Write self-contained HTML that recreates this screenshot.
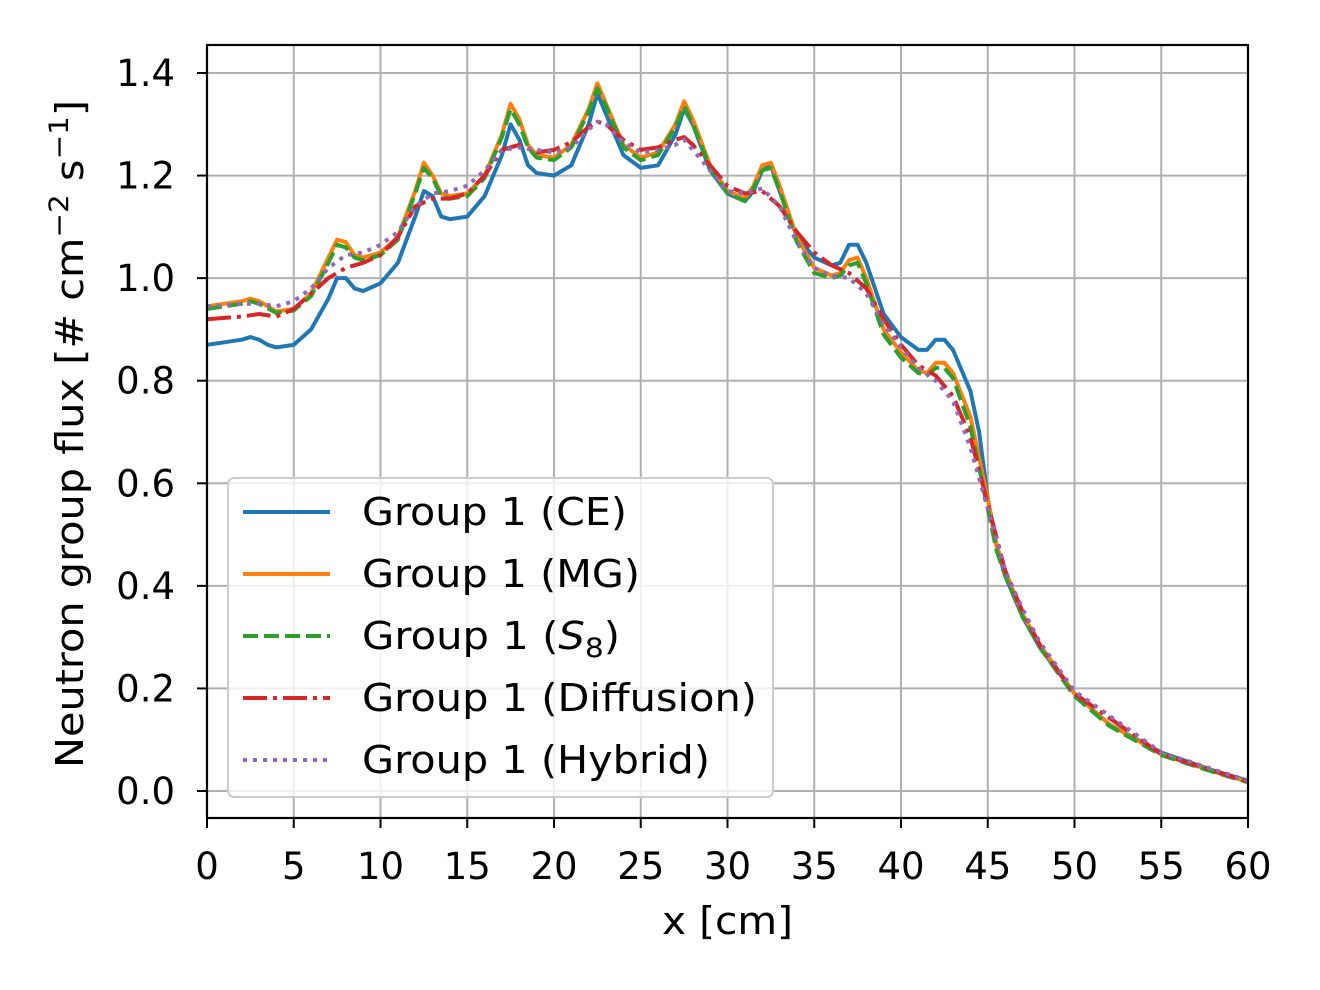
<!DOCTYPE html>
<html><head><meta charset="utf-8"><style>
html,body{margin:0;padding:0;background:#fff;}
svg{display:block;font-family:"DejaVu Sans","Liberation Sans",sans-serif;}
</style></head><body>
<svg id="chart" width="1320" height="990" viewBox="0 0 1320 990" xmlns="http://www.w3.org/2000/svg">
<g id="grid"></g>
<g id="series"></g>
<rect x="207" y="45" width="1041" height="773" fill="none" stroke="#000" stroke-width="2.2"/>
<g id="ticks"></g>
<text x="662" y="934" font-size="38" textLength="131" lengthAdjust="spacingAndGlyphs">x [cm]</text>
<text transform="translate(83,768) rotate(-90)" font-size="38" textLength="668" lengthAdjust="spacingAndGlyphs">Neutron group flux [# cm<tspan dy="-15" font-size="27">−2</tspan><tspan dy="15"> s</tspan><tspan dy="-15" font-size="27">−1</tspan><tspan dy="15">]</tspan></text>
<g id="legend"></g>
</svg>
<script>
const xTicks=[0,5,10,15,20,25,30,35,40,45,50,55,60];
const yTicks=[0.0,0.2,0.4,0.6,0.8,1.0,1.2,1.4];
const ceX=[0,1,2,2.5,3,3.5,4,5,6,7,7.5,8,8.5,9,10,11,12,12.5,13,13.5,14,15,16,17,17.5,18,18.5,19,20,21,22,22.5,23,24,25,26,27,27.5,28,29,30,31,31.5,32,32.5,33,34,35,36,36.5,37,37.5,38,39,40,41,41.5,42,42.5,43,44,44.5,45,45.5,46,47,48,50,52,55,58,60];
const ceY=[0.87,0.875,0.88,0.885,0.88,0.87,0.865,0.87,0.9,0.96,1.0,1.0,0.98,0.975,0.99,1.03,1.12,1.17,1.16,1.12,1.115,1.12,1.16,1.24,1.3,1.27,1.22,1.205,1.2,1.22,1.3,1.36,1.32,1.24,1.215,1.22,1.28,1.33,1.3,1.21,1.165,1.15,1.17,1.21,1.22,1.17,1.08,1.04,1.025,1.03,1.065,1.065,1.03,0.93,0.885,0.86,0.86,0.88,0.88,0.86,0.78,0.7,0.57,0.48,0.42,0.34,0.28,0.19,0.13,0.075,0.04,0.02];
const mgX=[0,2,2.5,3,4,5,6,7,7.5,8,8.5,9,10,11,12,12.5,13,13.5,14,15,16,17,17.5,18,18.5,19,20,21,22,22.5,23,24,25,26,27,27.5,28,29,30,31,31.5,32,32.5,33,34,35,36,36.5,37,37.5,38,39,40,41,41.5,42,42.5,43,44,45,45.5,46,47,48,50,52,55,58,60];
const mgY=[0.945,0.955,0.96,0.955,0.935,0.94,0.97,1.04,1.075,1.07,1.045,1.04,1.05,1.08,1.17,1.225,1.2,1.165,1.16,1.165,1.2,1.28,1.34,1.31,1.26,1.24,1.235,1.26,1.33,1.38,1.34,1.26,1.235,1.245,1.3,1.345,1.31,1.22,1.17,1.155,1.18,1.22,1.225,1.18,1.08,1.02,1.005,1.01,1.035,1.04,1.0,0.9,0.855,0.82,0.815,0.835,0.835,0.815,0.73,0.57,0.48,0.43,0.345,0.285,0.19,0.13,0.072,0.038,0.018];
const s8X=mgX;
const s8Y=[0.94,0.95,0.955,0.95,0.932,0.937,0.965,1.03,1.065,1.06,1.04,1.035,1.045,1.075,1.165,1.215,1.195,1.16,1.155,1.16,1.195,1.275,1.33,1.3,1.255,1.235,1.23,1.255,1.325,1.37,1.335,1.255,1.23,1.24,1.295,1.335,1.3,1.215,1.165,1.15,1.175,1.21,1.215,1.17,1.07,1.01,1.0,1.005,1.025,1.03,0.99,0.89,0.845,0.815,0.81,0.825,0.825,0.805,0.71,0.55,0.47,0.42,0.34,0.28,0.185,0.127,0.07,0.037,0.017];
const dfX=[0,2,3,4,5,6,7,8,9,10,11,12,13,14,15,16,17,18,19,20,21,22,22.5,23,24,25,26,27,27.5,28,29,30,31,32,33,34,35,36,37,38,39,40,41,42,43,44,45,46,47,48,50,55,60];
const dfY=[0.92,0.925,0.93,0.925,0.94,0.97,1.0,1.02,1.03,1.045,1.08,1.14,1.155,1.155,1.165,1.2,1.25,1.26,1.245,1.25,1.265,1.295,1.305,1.3,1.27,1.25,1.255,1.27,1.275,1.26,1.22,1.18,1.165,1.17,1.14,1.09,1.05,1.025,1.01,0.98,0.92,0.87,0.83,0.81,0.77,0.69,0.56,0.43,0.35,0.285,0.19,0.072,0.018];
const hyX=dfX;
const hyY=[0.945,0.95,0.95,0.945,0.955,0.98,1.02,1.045,1.05,1.065,1.09,1.14,1.165,1.17,1.18,1.21,1.25,1.255,1.25,1.245,1.255,1.29,1.305,1.3,1.265,1.245,1.25,1.26,1.27,1.25,1.21,1.17,1.165,1.175,1.14,1.07,1.02,1.005,1.0,0.97,0.91,0.865,0.825,0.8,0.76,0.67,0.55,0.43,0.355,0.29,0.195,0.075,0.02];
const seriesNames=["Group 1 (CE)","Group 1 (MG)","Group 1 (S8)","Group 1 (Diffusion)","Group 1 (Hybrid)"];
const legendWidths=[265,278,258,395,348];

const NS="http://www.w3.org/2000/svg";
const L=207,R=1248,T=45,B=818;
const sx=v=>L+(v-0)/60*(R-L);
const sy=v=>791-(v/1.4)*(791-73);
function mk(tag,parent){const e=document.createElementNS(NS,tag);parent.appendChild(e);return e;}
const grid=document.getElementById('grid'),ticks=document.getElementById('ticks');
xTicks.forEach(t=>{
  const g=mk('line',grid);
  
  
  g.setAttribute('x1',sx(t));g.setAttribute('x2',sx(t));g.setAttribute('y1',T);g.setAttribute('y2',B);
  g.setAttribute('stroke','#b0b0b0');g.setAttribute('stroke-width','2');
  const tk=mk('line',ticks);
  
  
  tk.setAttribute('x1',sx(t));tk.setAttribute('x2',sx(t));tk.setAttribute('y1',B);tk.setAttribute('y2',B+10);
  tk.setAttribute('stroke','#000');tk.setAttribute('stroke-width','2');
  const tx=mk('text',ticks);
  
  
  tx.setAttribute('x',sx(t));tx.setAttribute('y',879);tx.setAttribute('font-size','37');tx.setAttribute('text-anchor','middle');
  tx.textContent=t;
});
yTicks.forEach(t=>{
  const g=mk('line',grid);
  
  
  g.setAttribute('x1',L);g.setAttribute('x2',R);g.setAttribute('y1',sy(t));g.setAttribute('y2',sy(t));
  g.setAttribute('stroke','#b0b0b0');g.setAttribute('stroke-width','2');
  const tk=mk('line',ticks);
  
  
  tk.setAttribute('x1',L-10);tk.setAttribute('x2',L);tk.setAttribute('y1',sy(t));tk.setAttribute('y2',sy(t));
  tk.setAttribute('stroke','#000');tk.setAttribute('stroke-width','2');
  const tx=mk('text',ticks);
  
  
  tx.setAttribute('x',L-32);tx.setAttribute('y',sy(t)+13);tx.setAttribute('font-size','37');tx.setAttribute('text-anchor','end');
  tx.textContent=t.toFixed(1);
});
const styles=[
 {xs:ceX,ys:ceY,c:'#1f77b4',d:'',n:'series-ce'},
 {xs:mgX,ys:mgY,c:'#ff7f0e',d:'',n:'series-mg'},
 {xs:s8X,ys:s8Y,c:'#2ca02c',d:'15,6',n:'series-s8'},
 {xs:dfX,ys:dfY,c:'#d62728',d:'24,6,4,6',n:'series-diffusion'},
 {xs:hyX,ys:hyY,c:'#9467bd',d:'4,6',n:'series-hybrid'}];
const sg=document.getElementById('series');
styles.forEach(s=>{
  const p=mk('polyline',sg);
  
  
  p.setAttribute('points',s.xs.map((x,i)=>sx(x).toFixed(1)+','+sy(s.ys[i]).toFixed(1)).join(' '));
  p.setAttribute('fill','none');p.setAttribute('stroke',s.c);p.setAttribute('stroke-width','4');
  p.setAttribute('stroke-linejoin','round');
  if(s.d)p.setAttribute('stroke-dasharray',s.d);
});
const lg=document.getElementById('legend');
const box=mk('rect',lg);


box.setAttribute('x',228);box.setAttribute('y',478);box.setAttribute('width',545);box.setAttribute('height',319);box.setAttribute('rx',6);
box.setAttribute('fill','#fff');box.setAttribute('fill-opacity','0.8');box.setAttribute('stroke','#ccc');box.setAttribute('stroke-width','2');
styles.forEach((s,i)=>{
  const y=512+i*62;
  const l=mk('line',lg);
  
  
  l.setAttribute('x1',243);l.setAttribute('x2',330);l.setAttribute('y1',y);l.setAttribute('y2',y);
  l.setAttribute('stroke',s.c);l.setAttribute('stroke-width','4');
  if(s.d)l.setAttribute('stroke-dasharray',s.d);
  const t=mk('text',lg);
  
  
  t.setAttribute('x',362);t.setAttribute('y',y+13);t.setAttribute('font-size','38');
  t.setAttribute('textLength',legendWidths[i]);t.setAttribute('lengthAdjust','spacingAndGlyphs');
  if(i===2){t.innerHTML='Group 1 (<tspan font-style="italic">S</tspan><tspan dy="8" font-size="27">8</tspan><tspan dy="-8">)</tspan>';}
  else t.textContent=seriesNames[i];
});
</script>
</body></html>
